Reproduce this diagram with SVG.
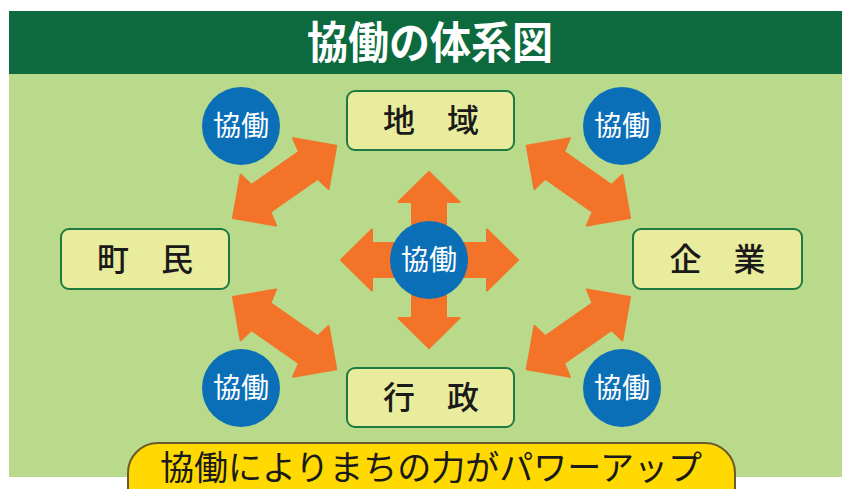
<svg xmlns="http://www.w3.org/2000/svg" width="842" height="489" viewBox="0 0 842 489">
<defs>
<style>
.bg{fill:#b9d98b}
.hdr{fill:#0d6a3f}
.arrow{fill:#f37329;stroke:#f37329;stroke-width:2;stroke-linejoin:round}
.box{fill:#e9ec9c;stroke:#1f7a42;stroke-width:2}
.circ{fill:#0b6fb8}
.jp{font-family:"Noto Sans CJK JP","Noto Sans CJK SC",sans-serif}
.title{fill:#fff;font-size:44px;font-weight:bold}
.btxt{fill:#1a1a1a;font-size:32px;font-weight:500}
.ctxt{fill:#fff;font-size:28px}
.ban{fill:#ffd900;stroke:#6b5a2a;stroke-width:2}
.bantxt{fill:#1a1a1a;font-size:34px}
</style>
<polygon id="dbl" points="0,0 31,-31 34,-16.5 92,-16.5 95,-31 126,0 95,31 92,16.5 34,16.5 31,31"/>
</defs>
<rect x="0" y="0" width="842" height="489" fill="#fff"/>
<rect class="bg" x="9" y="74" width="833" height="403"/>
<rect class="hdr" x="9" y="11" width="833" height="63"/>
<text class="jp title" x="430" y="59" text-anchor="middle" textLength="246" lengthAdjust="spacingAndGlyphs">協働の体系図</text>

<g id="connectors">
<use href="#dbl" class="arrow" transform="translate(233,218) rotate(-35)"/>
<use href="#dbl" class="arrow" transform="translate(233,297) rotate(35)"/>
<use href="#dbl" class="arrow" transform="translate(630,218) rotate(-145)"/>
<use href="#dbl" class="arrow" transform="translate(630,297) rotate(145)"/>
<polygon class="arrow" points="429,172 459.5,202 446,202 446,243 487,243 487,229.5 518,260 487,290.5 487,277 446,277 446,318 459.5,318 429,348 398.5,318 412,318 412,277 372,277 372,290.5 341,260 372,229.5 372,243 412,243 412,202 398.5,202"/>
</g>

<g id="node-chiiki">
<rect class="box" x="347" y="91" width="167" height="59" rx="8"/>
<text class="jp btxt" x="431" y="132" text-anchor="middle">地　域</text>
</g>
<g id="node-chomin">
<rect class="box" x="61" y="229" width="168" height="60" rx="8"/>
<text class="jp btxt" x="145" y="271" text-anchor="middle">町　民</text>
</g>
<g id="node-kigyo">
<rect class="box" x="633" y="229" width="169" height="60" rx="8"/>
<text class="jp btxt" x="717.5" y="271" text-anchor="middle">企　業</text>
</g>
<g id="node-gyosei">
<rect class="box" x="347" y="368" width="167" height="59" rx="8"/>
<text class="jp btxt" x="431" y="409" text-anchor="middle">行　政</text>
</g>

<g id="kyodo-tl">
<circle class="circ" cx="241" cy="126" r="39"/>
<text class="jp ctxt" x="241" y="136" text-anchor="middle">協働</text>
</g>
<g id="kyodo-tr">
<circle class="circ" cx="622" cy="126" r="39"/>
<text class="jp ctxt" x="622" y="136" text-anchor="middle">協働</text>
</g>
<g id="kyodo-bl">
<circle class="circ" cx="241" cy="388" r="39"/>
<text class="jp ctxt" x="241" y="398" text-anchor="middle">協働</text>
</g>
<g id="kyodo-br">
<circle class="circ" cx="622" cy="388" r="39"/>
<text class="jp ctxt" x="622" y="398" text-anchor="middle">協働</text>
</g>
<g id="kyodo-center">
<circle class="circ" cx="429" cy="260" r="39"/>
<text class="jp ctxt" x="429" y="270" text-anchor="middle">協働</text>
</g>

<g id="banner">
<rect class="ban" x="128" y="443" width="607" height="80" rx="30"/>
<text class="jp bantxt" x="431" y="480" text-anchor="middle">協働によりまちの力がパワーアップ</text>
</g>
</svg>
